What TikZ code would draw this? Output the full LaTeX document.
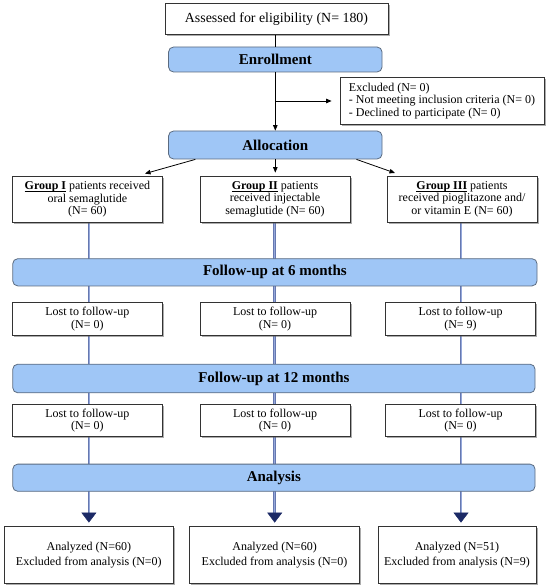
\documentclass[tikz,border=0pt]{standalone}
\usepackage{fontspec}
\setmainfont{Liberation Serif}
\usetikzlibrary{arrows.meta,shadows}
\definecolor{barblue}{HTML}{9FC6F6}
\definecolor{barborder}{HTML}{5B6B80}
\definecolor{slate}{HTML}{6678B0}
\definecolor{slatelight}{HTML}{95A8DA}
\definecolor{navyhead}{HTML}{1C2A66}
\newcommand{\grpul}[1]{\setbox0\hbox{#1}\rlap{\rule[-1.6pt]{\wd0}{0.6pt}}\box0\relax}
\pgfdeclarelayer{bg}
\pgfsetlayers{bg,main}
\tikzset{
  wbox/.style={draw=black!80, line width=0.8pt, fill=white, inner sep=2pt, align=center,
    drop shadow={shadow xshift=1.6pt,shadow yshift=-1.6pt,fill=black!65,opacity=0.5}},
  bar/.style={draw=barborder, line width=0.8pt, fill=barblue, rounded corners=5pt,
    font=\fontsize{15}{16}\selectfont\bfseries, inner sep=0pt},
  txt/.style={font=\fontsize{12}{12.3}\selectfont},
  arr/.style={draw=black, line width=0.8pt, -{Triangle[length=5.5pt,width=4.5pt]}},
  plain/.style={draw=black, line width=0.8pt},
  flow/.style={draw=slate, line width=2.5pt, postaction={draw=slatelight, line width=0.8pt}},
  headarr/.style={draw=navyhead, line width=0.5pt, -{Triangle[length=10pt,width=15pt]}, fill=navyhead},
}
\begin{document}
\begin{tikzpicture}[x=1pt,y=1pt]
\useasboundingbox (0,0) rectangle (550,-585);
% top section
\node[wbox, minimum width=223pt, minimum height=31pt, font=\fontsize{13.9}{15}\selectfont] (top) at (276.5,-19) {Assessed for eligibility (N= 180)};
\node[bar, minimum width=213.5pt, minimum height=25pt] (enr) at (275.3,-59.5) {Enrollment};
\node[wbox, minimum width=204pt, minimum height=44pt, align=left, inner sep=5pt,
  font=\fontsize{12}{12.7}\selectfont] (excl) at (442,-101) {Excluded (N= 0)\\- Not meeting inclusion criteria (N= 0)\\- Declined to participate (N= 0)};
\node[bar, minimum width=213.5pt, minimum height=28pt] (alloc) at (275.3,-145) {Allocation};
% groups
\node[wbox, txt, minimum width=149.3pt, minimum height=46.4pt] (gI) at (87.4,-199.2) {\grpul{\textbf{Group I}} patients received\\oral semaglutide\\(N= 60)};
\node[wbox, txt, minimum width=150pt, minimum height=46.4pt] (gII) at (275,-199.2) {\grpul{\textbf{Group II}} patients\\received injectable\\semaglutide (N= 60)};
\node[wbox, txt, minimum width=150pt, minimum height=46.4pt] (gIII) at (462,-199.2) {\grpul{\textbf{Group III}} patients\\received pioglitazone and/\\or vitamin E (N= 60)};
% follow-up 6
\node[bar, minimum width=524.3pt, minimum height=27.2pt] (fu6) at (274.9,-272.3) {Follow-up at 6 months};
\node[wbox, txt, minimum width=149.3pt, minimum height=32.4pt] (lIa) at (87.4,-319) {Lost to follow-up\\(N= 0)};
\node[wbox, txt, minimum width=150pt, minimum height=32.4pt] (lIIa) at (275,-319) {Lost to follow-up\\(N= 0)};
\node[wbox, txt, minimum width=149.6pt, minimum height=32.4pt] (lIIIa) at (460.5,-319) {Lost to follow-up\\(N= 9)};
% follow-up 12
\node[bar, minimum width=522.3pt, minimum height=28.6pt] (fu12) at (273.9,-378.5) {Follow-up at 12 months};
\node[wbox, txt, minimum width=149.3pt, minimum height=32pt] (lIb) at (87.4,-420.8) {Lost to follow-up\\(N= 0)};
\node[wbox, txt, minimum width=150pt, minimum height=32pt] (lIIb) at (275,-420.8) {Lost to follow-up\\(N= 0)};
\node[wbox, txt, minimum width=149.6pt, minimum height=32pt] (lIIIb) at (460.5,-420.8) {Lost to follow-up\\(N= 0)};
% analysis
\node[bar, minimum width=522.3pt, minimum height=27.2pt] (ana) at (273.9,-477.7) {Analysis};
\node[wbox, minimum width=169.3pt, minimum height=56.8pt, font=\fontsize{12}{14.8}\selectfont] (fI) at (88.85,-554.9) {Analyzed (N=60)\\Excluded from analysis (N=0)};
\node[wbox, minimum width=170.3pt, minimum height=56.8pt, font=\fontsize{12}{14.8}\selectfont] (fII) at (274.55,-554.9) {Analyzed (N=60)\\Excluded from analysis (N=0)};
\node[wbox, minimum width=158pt, minimum height=56.8pt, font=\fontsize{12}{14.8}\selectfont] (fIII) at (457,-554.9) {Analyzed (N=51)\\Excluded from analysis (N=9)};
% coordinates
\coordinate (br) at (275.3,-101);
\coordinate (vI) at (88.9,-513);
\coordinate (vII) at (274.7,-513);
\coordinate (vIII) at (461,-513);
% top connectors
\draw[plain] (enr.north) -- (enr.north |- top.south);
\draw[arr] (enr.south) -- (alloc.north);
\draw[arr, shorten >=8pt] (br) -- (excl.west);
\draw[arr] ([xshift=27.2pt]alloc.south west) -- ([xshift=57.6pt,yshift=2pt]gI.north);
\draw[arr] (alloc.south) -- ([yshift=3pt]alloc.south |- gII.north);
\draw[arr] ([xshift=-26pt]alloc.south east) -- ([xshift=-67pt,yshift=2.6pt]gIII.north);
% flow lines
\begin{pgfonlayer}{bg}
\draw[flow] (vI |- gI.south) -- (vI);
\draw[flow] (vII |- gII.south) -- (vII);
\draw[flow] (vIII |- gIII.south) -- (vIII);
\end{pgfonlayer}
\draw[headarr, shorten >=3.5pt] (vI) -- (vI |- fI.north);
\draw[headarr, shorten >=3.5pt] (vII) -- (vII |- fII.north);
\draw[headarr, shorten >=3.5pt] (vIII) -- (vIII |- fIII.north);
\end{tikzpicture}
\end{document}
